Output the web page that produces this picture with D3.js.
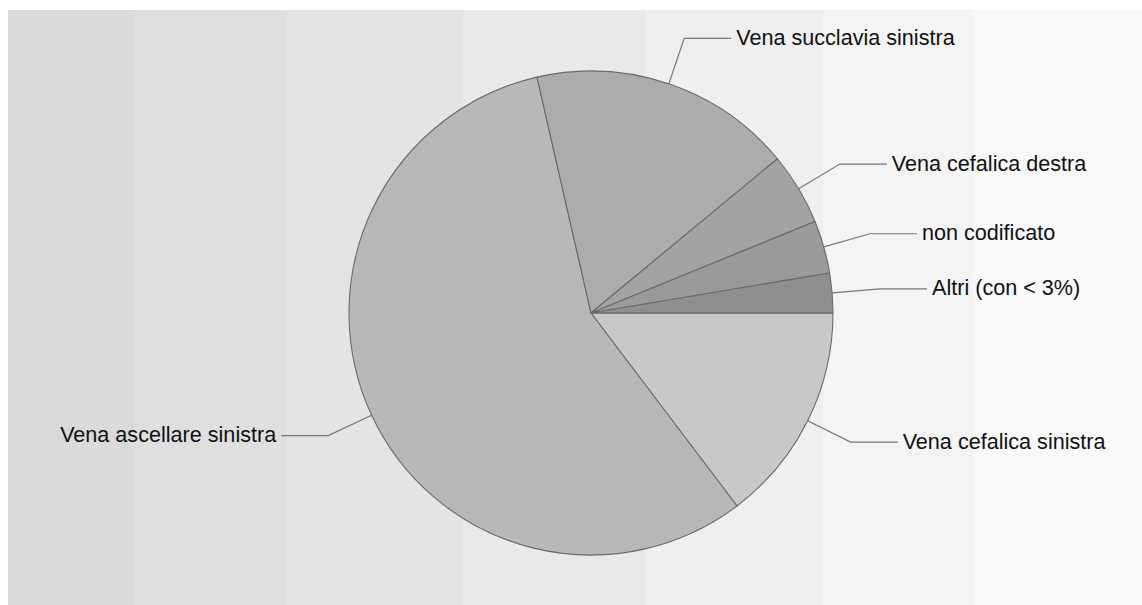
<!DOCTYPE html>
<html>
<head>
<meta charset="utf-8">
<script src="https://cdn.jsdelivr.net/npm/d3@7"></script>
<style>
  html, body { margin: 0; padding: 0; background: #ffffff; }
  svg { display: block; }
</style>
</head>
<body>
<svg id="chart" width="1142" height="605"></svg>
<script>
// Data (clockwise order starting at 3 o'clock)
const categories = [
  "Vena cefalica sinistra",
  "Vena ascellare sinistra",
  "Vena succlavia sinistra",
  "Vena cefalica destra",
  "non codificato",
  "Altri (con < 3%)"
];
const values = [14.69, 56.72, 17.58, 4.83, 3.53, 2.64];
const sliceColors = ["#c8c8c8", "#b8b8b8", "#acacac", "#a3a3a3", "#9a9a9a", "#8e8e8e"];

// Background band layout (style)
const bandEdges = [8, 135, 287, 463, 645, 823, 973, 1142];
const bandColors = ["#dadada", "#dfdfdf", "#e4e4e4", "#e9e9e9", "#efefef", "#f4f4f4", "#f9f9f9"];

const W = 1142, H = 605;
const cx = 591, cy = 313, R = 242, Relbow = 290, hLen = 47, gap = 5;

const svg = d3.select("#chart");

// Background bands
svg.append("g").selectAll("rect")
  .data(bandColors)
  .join("rect")
  .attr("x", (d, i) => bandEdges[i])
  .attr("y", 10)
  .attr("width", (d, i) => bandEdges[i + 1] - bandEdges[i])
  .attr("height", H - 10)
  .attr("fill", d => d);

const data = categories.map((c, i) => ({ name: c, value: values[i], color: sliceColors[i] }));

const pie = d3.pie()
  .sort(null)
  .value(d => d.value)
  .startAngle(Math.PI / 2)
  .endAngle(Math.PI / 2 + 2 * Math.PI);

const arcs = pie(data);
const arc = d3.arc().innerRadius(0).outerRadius(R);

const g = svg.append("g").attr("transform", `translate(${cx},${cy})`);

g.selectAll("path.slice")
  .data(arcs)
  .join("path")
  .attr("class", "slice")
  .attr("d", arc)
  .attr("fill", d => d.data.color)
  .attr("stroke", "#6a6a6a")
  .attr("stroke-width", 1.1)
  .attr("stroke-linejoin", "round");

// Leader lines + labels
function pt(a, r) { return [r * Math.sin(a), -r * Math.cos(a)]; }

const labels = g.append("g");
arcs.forEach(d => {
  const mid = (d.startAngle + d.endAngle) / 2;
  const p0 = pt(mid, R);
  const p1 = pt(mid, Relbow);
  const right = Math.sin(mid) >= 0;
  const p2 = [p1[0] + (right ? hLen : -hLen), p1[1]];
  labels.append("polyline")
    .attr("points", [p0, p1, p2].map(p => p.join(",")).join(" "))
    .attr("fill", "none")
    .attr("stroke", "#777777")
    .attr("stroke-width", 1.2);
  labels.append("text")
    .attr("x", p2[0] + (right ? gap : -gap))
    .attr("y", p2[1])
    .attr("dy", "0.3em")
    .attr("text-anchor", right ? "start" : "end")
    .attr("font-family", "Arial, 'Liberation Sans', sans-serif")
    .attr("font-size", 21.6)
    .attr("fill", "#111111")
    .text(d.data.name);
});
</script>
</body>
</html>
